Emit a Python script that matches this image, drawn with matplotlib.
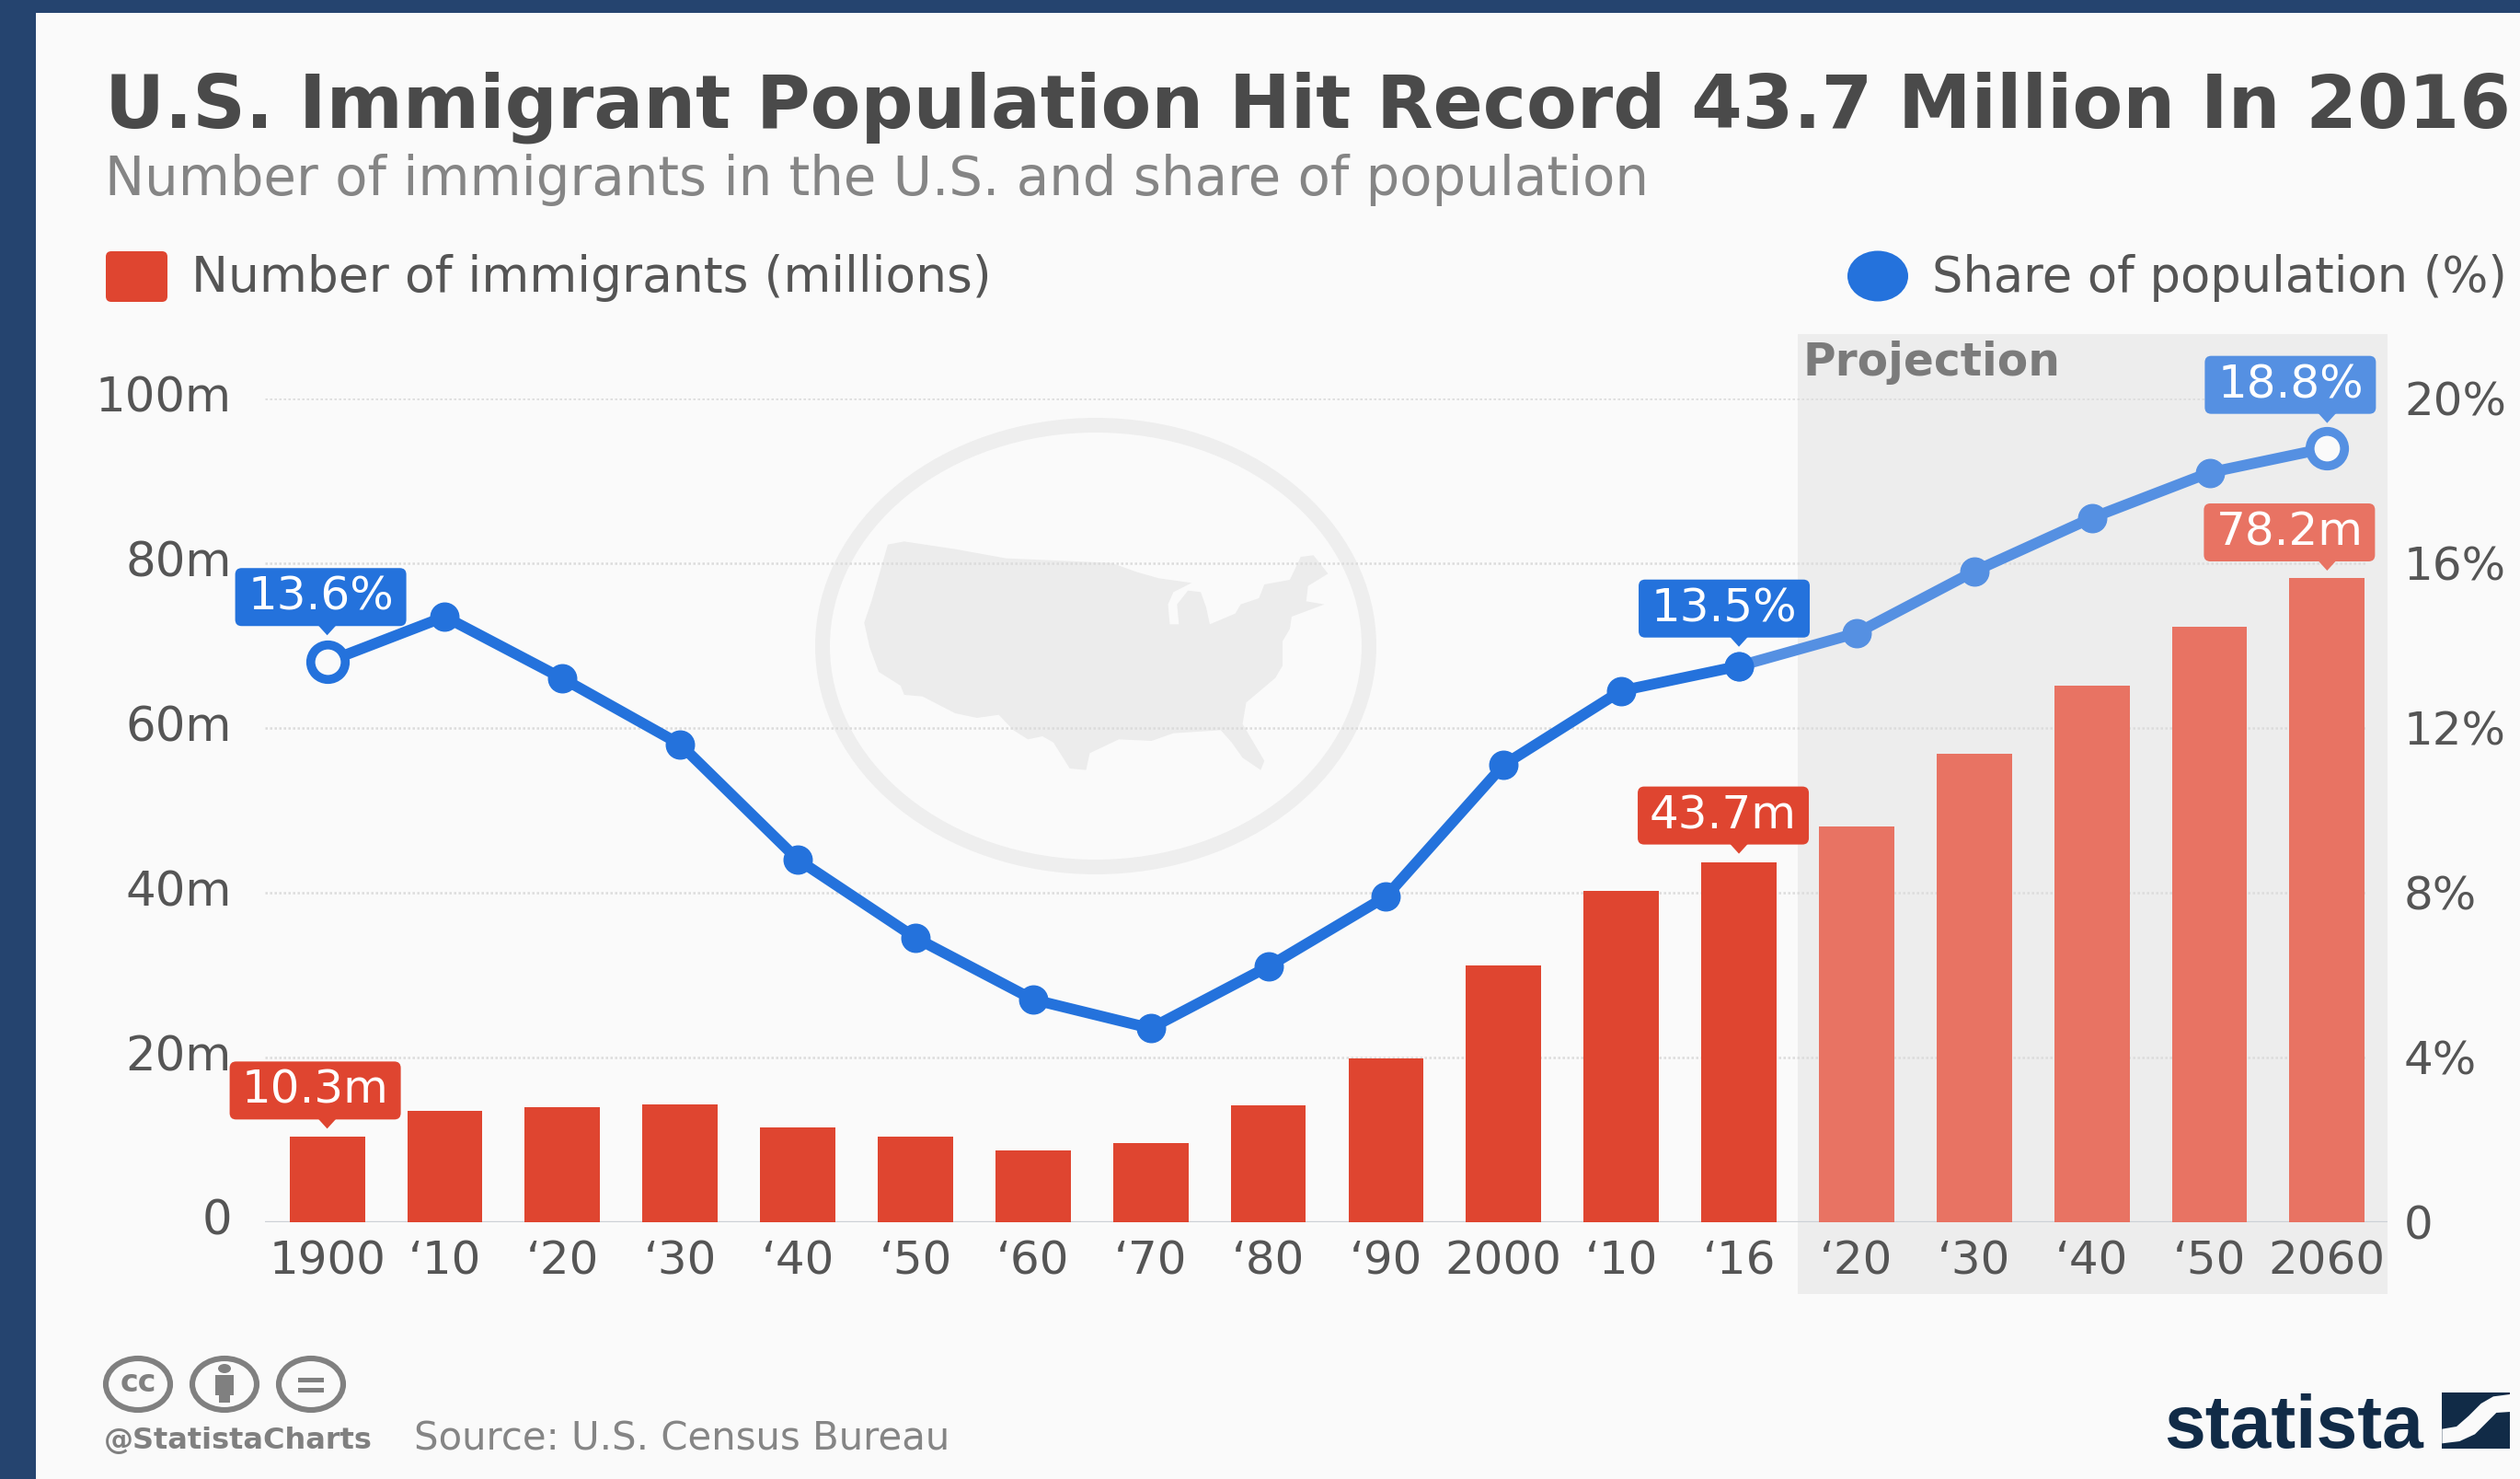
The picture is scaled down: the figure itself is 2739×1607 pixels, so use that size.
import matplotlib
matplotlib.use("Agg")
from matplotlib import pyplot as plt
from matplotlib.patches import Ellipse, FancyBboxPatch, Polygon, Rectangle
from matplotlib.transforms import ScaledTranslation
import numpy as np

plt.rcParams['font.family'] = ['DejaVu Sans']

W, H = 2739, 1607

year_labels = ["1900", "‘10", "‘20", "‘30", "‘40", "‘50", "‘60", "‘70", "‘80", "‘90",
               "2000", "‘10", "‘16", "‘20", "‘30", "‘40", "‘50", "2060"]
immigrants = [10.3, 13.5, 13.9, 14.2, 11.5, 10.3, 8.7, 9.6, 14.1, 19.8,
              31.1, 40.2, 43.7, 48.0, 56.8, 65.1, 72.3, 78.2]
share = [13.6, 14.7, 13.2, 11.6, 8.8, 6.9, 5.4, 4.7, 6.2, 7.9,
         11.1, 12.9, 13.5, 14.3, 15.8, 17.1, 18.2, 18.8]
left_ticks = [0, 20, 40, 60, 80, 100]
left_labels = ["0", "20m", "40m", "60m", "80m", "100m"]
right_ticks = [0, 4, 8, 12, 16, 20]
right_labels = ["0", "4%", "8%", "12%", "16%", "20%"]
first_projected = 13

BG = "#fafafa"
BORDER = "#25446f"
RED = "#df4530"
RED_LIGHT = "#e87363"
BLUE = "#2472dc"
BLUE_LIGHT = "#5590e2"
TEXT = "#555555"
SHADE = "#ededed"
WATERMARK = "#eeeeee"

# outline of the lower 48 states for the watermark
us_x = [215, 260, 400, 540, 830, 900, 960, 1050, 1000, 985, 990, 1015, 1010, 1040, 1075, 1090, 1100,
        1170, 1185, 1235, 1250, 1320, 1350, 1385, 1425, 1370, 1365, 1415, 1325, 1320, 1300, 1300, 1280,
        1200, 1190, 1250, 1240, 1190, 1160, 1130, 1000, 940, 850, 770, 760, 715, 670, 640, 600, 560,
        520, 460, 400, 310, 260, 250, 190, 165, 150, 170]
us_y = [455, 445, 470, 500, 515, 545, 565, 580, 610, 650, 715, 715, 650, 605, 610, 660, 715,
        680, 650, 630, 585, 570, 495, 490, 550, 590, 640, 650, 690, 730, 770, 850, 890,
        970, 1040, 1160, 1190, 1150, 1100, 1060, 1070, 1095, 1090, 1135, 1190, 1185, 1100, 1080, 1090, 1060,
        1010, 1020, 1005, 950, 945, 915, 870, 790, 710, 640]

fig = plt.figure(figsize=(W / 100, H / 100), dpi=100, facecolor=BORDER)


def pixel_axes(z):
    a = fig.add_axes([0, 0, 1, 1], zorder=z)
    a.set_xlim(0, W)
    a.set_ylim(H, 0)
    a.axis("off")
    return a


back = pixel_axes(0)
back.add_patch(Rectangle((39, 14), W - 39, H - 14, facecolor=BG, edgecolor="none"))

# title block
back.text(114, 117, "U.S. Immigrant Population Hit Record 43.7 Million In 2016", fontsize=57.5,
          fontweight="bold", color="#4a4a4a", ha="left", va="center")
back.text(114, 195, "Number of immigrants in the U.S. and share of population", fontsize=41.6,
          color="#858585", ha="left", va="center")

# legend
back.add_patch(FancyBboxPatch((120, 278), 57, 45, boxstyle="round,pad=5,rounding_size=6",
                              facecolor=RED, edgecolor="none"))
back.text(208, 302, "Number of immigrants (millions)", fontsize=38.5, color=TEXT, ha="left", va="center")
back.add_patch(Ellipse((2041, 300), 66, 55, facecolor=BLUE, edgecolor="none"))
back.text(2100, 302, "Share of population (%)", fontsize=38, color=TEXT, ha="left", va="center")

# watermark
back.add_patch(Ellipse((1191, 702), 594, 480, fill=False, edgecolor=WATERMARK, linewidth=11.5))
back.add_patch(Polygon(np.column_stack([880 + np.array(us_x) / 2.529, 440 + np.array(us_y) / 3]),
                       closed=True, facecolor="#ececec", edgecolor="none"))

# projection band
back.add_patch(Rectangle((1954, 363), 641, 1043, facecolor=SHADE, edgecolor="none"))
back.text(1960, 394, "Projection", fontsize=35, fontweight="bold", color="#7b7b7b", ha="left", va="center")

# footer
for cx in [150, 244, 338]:
    back.add_patch(Ellipse((cx, 1504), 70, 56, fill=False, edgecolor="#808080", linewidth=4.4))
back.text(150, 1503, "cc", fontsize=24, fontweight="bold", color="#808080", ha="center", va="center")
back.add_patch(Ellipse((244, 1487), 14, 10, facecolor="#808080", edgecolor="none"))
back.add_patch(Rectangle((234, 1494), 20, 22, facecolor="#808080", edgecolor="none"))
back.add_patch(Rectangle((238, 1514), 12, 10, facecolor="#808080", edgecolor="none"))
back.add_patch(Rectangle((324, 1497), 28, 5, facecolor="#808080", edgecolor="none"))
back.add_patch(Rectangle((324, 1508), 28, 5, facecolor="#808080", edgecolor="none"))
back.text(113, 1565, "@StatistaCharts", fontsize=23, fontweight="bold", color="#808080",
          ha="left", va="center")
back.text(450, 1563, "Source: U.S. Census Bureau", fontsize=30.2, color="#858585", ha="left", va="center")

back.text(2352, 1573, "statista", fontsize=58, fontweight="bold", family="Liberation Sans",
          color="#112b47", ha="left", va="baseline")
back.add_patch(Rectangle((2654, 1513), 74, 61, facecolor="#112b47", edgecolor="none"))
swoosh_x = [1003, 1050, 1090, 1130, 1170, 1225, 1225, 1180, 1150, 1110, 1060, 1003]
swoosh_y = [218, 210, 175, 135, 112, 105, 162, 165, 195, 235, 258, 265]
back.add_patch(Polygon(np.column_stack([2320 + np.array(swoosh_x) / 3, 1480 + np.array(swoosh_y) / 3]),
                       closed=True, facecolor=BG, edgecolor="none"))

# chart area, bars on the left scale and the line on the right scale
left, right, top, bottom = 288, 2595, 433, 1327.5
ax = fig.add_axes([left / W, 1 - bottom / H, (right - left) / W, (bottom - top) / H], zorder=1)
ax.patch.set_alpha(0)
step = 127.87
x_min = (left - 355.6) / step
x_max = (right - 355.6) / step
pos = np.arange(len(immigrants))
ax.set_xlim(x_min, x_max)
ax.set_ylim(0, 100)
ax.hlines(left_ticks[1:], x_min, (2571 - 355.6) / step, color="#dcdcdc", linewidth=1.8,
          linestyle=(0, (1, 1)), zorder=1)
bar_colors = [RED if i < first_projected else RED_LIGHT for i in pos]
ax.bar(pos, immigrants, width=0.64, color=bar_colors, zorder=2)
ax.axhline(0, color="#ccd0d6", linewidth=2.4, zorder=1.5)
for s in ax.spines.values():
    s.set_visible(False)
ax.set_xticks(pos)
ax.set_xticklabels(year_labels)
ax.set_yticks(left_ticks)
ax.set_yticklabels(left_labels)
ax.tick_params(axis="x", length=0, pad=14, labelsize=36, labelcolor=TEXT)
ax.tick_params(axis="y", length=0, pad=26, labelsize=37, labelcolor=TEXT)
# left scale labels sit slightly above their gridlines
for lab in ax.get_yticklabels():
    lab.set_transform(lab.get_transform() + ScaledTranslation(0, 5 / 100, fig.dpi_scale_trans))

ax2 = ax.twinx()
ax2.set_zorder(2)
ax2.set_ylim(0, 20)
for s in ax2.spines.values():
    s.set_visible(False)
ax2.set_yticks(right_ticks)
ax2.set_yticklabels(right_labels)
ax2.tick_params(axis="y", length=0, pad=13, labelsize=36, labelcolor=TEXT)
ax2.plot(pos[first_projected - 1:], share[first_projected - 1:], color=BLUE_LIGHT, linewidth=8.5,
         marker="o", markersize=22, zorder=3, clip_on=False, solid_joinstyle="round")
ax2.plot(pos[:first_projected], share[:first_projected], color=BLUE, linewidth=8.5,
         marker="o", markersize=22, zorder=4, clip_on=False, solid_joinstyle="round")
ax2.plot([pos[0]], [share[0]], marker="o", markersize=27, markerfacecolor=BG, markeredgecolor=BLUE,
         markeredgewidth=7, zorder=5, clip_on=False)
ax2.plot([pos[-1]], [share[-1]], marker="o", markersize=27, markerfacecolor=BG, markeredgecolor=BLUE_LIGHT,
         markeredgewidth=7, zorder=5, clip_on=False)

front = pixel_axes(5)


def badge(a, i, v, text, color, dx, gap):
    # callout box above a point, placed from the data position of that point
    px, py = a.transData.transform((i, v))
    py = H - py
    cx = px + dx
    bw, bh = 186, 63
    box_bottom = py - gap
    front.add_patch(FancyBboxPatch((cx - bw / 2 + 6, box_bottom - bh + 6), bw - 12, bh - 12,
                                   boxstyle="round,pad=6,rounding_size=7", facecolor=color, edgecolor="none"))
    front.add_patch(Polygon([(px - 10, box_bottom - 1), (px + 10, box_bottom - 1), (px, box_bottom + 10)],
                            closed=True, facecolor=color, edgecolor="none"))
    front.text(cx, box_bottom - bh / 2 - 5, text, fontsize=36, color="white", ha="center", va="center_baseline")


for i, d, g in [(0, -7, 39), (12, -16, 31), (17, -40, 37)]:
    c = BLUE_LIGHT if i >= first_projected else BLUE
    badge(ax2, i, share[i], f"{share[i]}%", c, d, g)
for i, d, g in [(0, -13, 19), (12, -17, 19), (17, -41, 18)]:
    c = RED_LIGHT if i >= first_projected else RED
    badge(ax, i, immigrants[i], f"{immigrants[i]}m", c, d, g)

fig.savefig("out.png", dpi=100, facecolor=BORDER)
